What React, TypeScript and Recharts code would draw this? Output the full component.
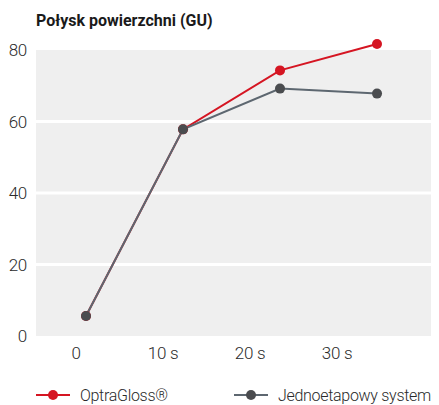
import React from "react";
import {
  Legend,
  Line,
  LineChart,
  ReferenceArea,
  ReferenceLine,
  XAxis,
  YAxis,
} from "recharts";

const seconds = [0, 10, 20, 30];
const timeLabels = ["0", "10 s", "20 s", "30 s"];
const optraGloss = [5.6, 57.8, 74.3, 81.7];
const singleStep = [5.6, 57.8, 69.2, 67.8];
const yTicks = [0, 20, 40, 60, 80];
const gridValues = [20, 40, 60];

const FONT = "Roboto, 'Liberation Sans', sans-serif";
const RED = "#d51522";
const GREY_LINE = "#5d6770";
const GREY_DOT = "#4a4c4f";

const chartData = seconds.map((t, i) => ({
  t,
  optra: optraGloss[i],
  single: singleStep[i],
}));

const legendItems = [
  { name: "OptraGloss®", line: RED, dot: RED, left: 0 },
  { name: "Jednoetapowy system", line: GREY_LINE, dot: GREY_DOT, left: 198 },
];

const LegendContent = () => (
  <div style={{ position: "relative", height: 20, width: 403 }}>
    {legendItems.map((item) => (
      <div
        key={item.name}
        style={{
          position: "absolute",
          left: item.left,
          top: 0,
          height: 20,
          display: "flex",
          alignItems: "center",
          fontFamily: FONT,
          fontWeight: 300,
          fontSize: 16,
          letterSpacing: -0.3,
          color: "#2a2a2a",
          whiteSpace: "nowrap",
        }}
      >
        <svg width={34} height={12} style={{ marginRight: 10 }}>
          <line x1={0} y1={6} x2={34} y2={6} stroke={item.line} strokeWidth={2} />
          <circle cx={17} cy={6} r={5} fill={item.dot} />
        </svg>
        {item.name}
      </div>
    ))}
  </div>
);

const tickStyle = {
  fill: "#2a2a2a",
  fontSize: 17,
  fontFamily: FONT,
  fontWeight: 300,
  letterSpacing: -0.3,
};

const App: React.FC = () => {
  return (
    <div style={{ position: "relative", width: 431, height: 397 }}>
      <div
        style={{
          position: "absolute",
          left: 28,
          top: 3,
          fontFamily: FONT,
          fontWeight: 700,
          fontSize: 16,
          color: "#1a1a1a",
        }}
      >
        Połysk powierzchni (GU)
      </div>
      <LineChart
        width={431}
        height={397}
        data={chartData}
        margin={{ top: 27.7, right: 0, bottom: 0, left: 0 }}
      >
        <XAxis
          xAxisId="data"
          dataKey="t"
          type="number"
          domain={[-5.155, 36.39]}
          height={0}
          hide
        />
        <XAxis
          xAxisId="labels"
          dataKey="t"
          type="category"
          padding={{ left: 40, right: 102 }}
          tickFormatter={(v: number) => timeLabels[seconds.indexOf(v)] ?? ""}
          axisLine={false}
          tickLine={false}
          tickSize={6}
          tickMargin={5}
          height={49}
          tick={tickStyle}
        />
        <YAxis
          domain={[0, 84]}
          ticks={yTicks}
          axisLine={false}
          tickLine={false}
          width={28}
          tickSize={7}
          tickMargin={2}
          tick={tickStyle}
        />
        <ReferenceArea
          xAxisId="data"
          y1={0}
          y2={80}
          fill="#efefef"
          fillOpacity={1}
          stroke="none"
        />
        {gridValues.map((v) => (
          <ReferenceLine
            key={v}
            xAxisId="data"
            y={v}
            stroke="#ffffff"
            strokeWidth={3}
          />
        ))}
        <Legend
          verticalAlign="bottom"
          content={<LegendContent />}
          wrapperStyle={{ left: 28, width: 403 }}
        />
        <Line
          xAxisId="data"
          dataKey="optra"
          name="OptraGloss®"
          stroke={RED}
          strokeWidth={2}
          dot={{ r: 5, fill: RED, stroke: "none" }}
          isAnimationActive={false}
        />
        <Line
          xAxisId="data"
          dataKey="single"
          name="Jednoetapowy system"
          stroke={GREY_LINE}
          strokeWidth={2}
          dot={{ r: 5, fill: GREY_DOT, stroke: "none" }}
          isAnimationActive={false}
        />
      </LineChart>
    </div>
  );
};

export default App;
